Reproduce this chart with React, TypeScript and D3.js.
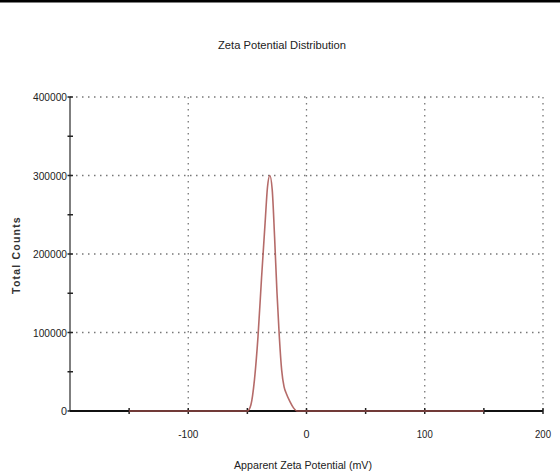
import React, { useEffect, useRef } from "react";
import * as d3 from "d3";

// zeta potential (mV) vs total counts
const potential = [-150, -60, -50, -47, -44, -41, -38, -35, -33, -31, -29, -27, -25, -23, -21, -19, -17, -14, -11, -8, 0, 150];
const counts = [0, 0, 0, 8000, 40000, 95000, 170000, 240000, 285000, 300000, 282000, 222000, 152000, 95000, 52000, 31000, 22000, 12000, 4000, 0, 0, 0];
const xTicks = [-100, 0, 100, 200];
const yTicks = [0, 100000, 200000, 300000, 400000];

const App = () => {
  const svgRef = useRef<SVGSVGElement>(null);

  useEffect(() => {
    const W = 560, H = 474;
    const margin = { top: 97, right: 17, bottom: 63, left: 70 };
    const svg = d3.select(svgRef.current).attr("width", W).attr("height", H);
    svg.selectAll("*").remove();

    const x = d3.scaleLinear().domain([-200, 200]).range([margin.left, W - margin.right]);
    const y = d3.scaleLinear().domain([0, 400000]).range([H - margin.bottom, margin.top]);

    svg.append("rect").attr("x", 0).attr("y", 0).attr("width", W).attr("height", 2.5).attr("fill", "#000");

    svg.append("text")
      .attr("x", 282).attr("y", 49)
      .attr("text-anchor", "middle")
      .attr("font-family", "Liberation Sans, Arial, sans-serif")
      .attr("font-size", 11)
      .attr("textLength", 128)
      .attr("lengthAdjust", "spacingAndGlyphs")
      .attr("fill", "#222")
      .text("Zeta Potential Distribution");

    const grid = svg.append("g").attr("stroke", "#777").attr("stroke-width", 1.3).attr("stroke-dasharray", "1.5,4.5");
    grid.selectAll(".gy").data(yTicks.slice(1)).enter().append("line")
      .attr("x1", x(-200)).attr("x2", x(200))
      .attr("y1", (d) => y(d)).attr("y2", (d) => y(d));
    grid.selectAll(".gx").data(xTicks).enter().append("line")
      .attr("x1", (d) => x(d)).attr("x2", (d) => x(d))
      .attr("y1", y(400000)).attr("y2", y(0));

    // y axis
    svg.append("line")
      .attr("x1", x(-200)).attr("x2", x(-200))
      .attr("y1", y(400000)).attr("y2", y(0))
      .attr("stroke", "#555").attr("stroke-width", 1.5);
    svg.selectAll(".ty").data(d3.range(0, 400001, 50000)).enter().append("line")
      .attr("x1", x(-200) - 2.5).attr("x2", x(-200) + 3)
      .attr("y1", (d) => y(d)).attr("y2", (d) => y(d))
      .attr("stroke", "#222").attr("stroke-width", 1.5);
    svg.selectAll(".ly").data(yTicks).enter().append("text")
      .attr("x", x(-200) - 3).attr("y", (d) => y(d) + 4)
      .attr("text-anchor", "end")
      .attr("font-family", "Liberation Sans, Arial, sans-serif")
      .attr("font-size", 11)
      .attr("textLength", (d) => (d === 0 ? 6 : 34))
      .attr("lengthAdjust", "spacingAndGlyphs")
      .attr("fill", "#222")
      .text((d) => d);

    // x axis
    svg.append("line")
      .attr("x1", x(-200)).attr("x2", x(200))
      .attr("y1", y(0)).attr("y2", y(0))
      .attr("stroke", "#111").attr("stroke-width", 2);
    svg.selectAll(".tx").data(d3.range(-150, 201, 50)).enter().append("line")
      .attr("x1", (d) => x(d)).attr("x2", (d) => x(d))
      .attr("y1", y(0) - 3).attr("y2", y(0) + 3)
      .attr("stroke", "#222").attr("stroke-width", 1.5);
    svg.selectAll(".lx").data(xTicks).enter().append("text")
      .attr("x", (d) => x(d)).attr("y", y(0) + 27)
      .attr("text-anchor", "middle")
      .attr("font-family", "Liberation Sans, Arial, sans-serif")
      .attr("font-size", 11)
      .attr("textLength", (d) => (d === 0 ? 6 : d < 0 ? 20 : 16))
      .attr("lengthAdjust", "spacingAndGlyphs")
      .attr("fill", "#222")
      .text((d) => d);

    svg.append("text")
      .attr("x", 303).attr("y", 469)
      .attr("text-anchor", "middle")
      .attr("font-family", "Liberation Sans, Arial, sans-serif")
      .attr("font-size", 11)
      .attr("textLength", 138)
      .attr("lengthAdjust", "spacingAndGlyphs")
      .attr("fill", "#222")
      .text("Apparent Zeta Potential (mV)");

    svg.append("text")
      .attr("transform", `translate(20,${255}) rotate(-90)`)
      .attr("text-anchor", "middle")
      .attr("font-family", "Liberation Sans, Arial, sans-serif")
      .attr("font-size", 10.5)
      .attr("font-weight", "bold")
      .attr("letter-spacing", 1.2)
      .attr("fill", "#333")
      .text("Total Counts");

    const line = d3.line<number>()
      .x((d, i) => x(potential[i]))
      .y((d) => y(d))
      .curve(d3.curveMonotoneX);
    svg.append("path")
      .datum(counts)
      .attr("d", line)
      .attr("fill", "none")
      .attr("stroke", "#a8514f")
      .attr("stroke-width", 1.6)
      .attr("opacity", 0.85);
  }, []);

  return <svg ref={svgRef} style={{ position: "absolute", left: 0, top: 0 }}></svg>;
};

export default App;
